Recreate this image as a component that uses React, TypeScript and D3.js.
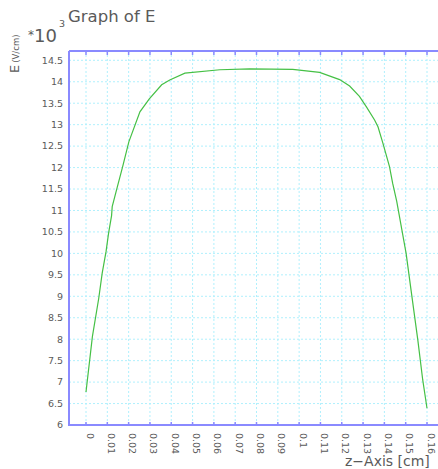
import React from "react";
import * as d3 from "d3";

const zValues = [0, 0.003, 0.006, 0.0076, 0.0094, 0.0106, 0.012, 0.0123, 0.0147, 0.0172, 0.0201, 0.0253, 0.0297, 0.0355, 0.0393, 0.0464, 0.0628, 0.0768, 0.097, 0.1096, 0.119, 0.1237, 0.1283, 0.1315, 0.1354, 0.137, 0.1393, 0.1424, 0.1439, 0.1458, 0.1502, 0.1525, 0.1557, 0.158, 0.16];
const eValues = [6.77, 8.06, 8.96, 9.54, 10.04, 10.47, 10.88, 11.09, 11.55, 12.02, 12.6, 13.3, 13.6, 13.93, 14.04, 14.2, 14.28, 14.3, 14.29, 14.22, 14.05, 13.9, 13.66, 13.42, 13.11, 12.95, 12.57, 12.02, 11.63, 11.21, 10.0, 9.15, 7.98, 7.05, 6.39];
const xTicks = [0, 0.01, 0.02, 0.03, 0.04, 0.05, 0.06, 0.07, 0.08, 0.09, 0.1, 0.11, 0.12, 0.13, 0.14, 0.15, 0.16];
const yTicks = [6, 6.5, 7, 7.5, 8, 8.5, 9, 9.5, 10, 10.5, 11, 11.5, 12, 12.5, 13, 13.5, 14, 14.5];

const W = 438, H = 469;
const left = 69, right = 446, top = 51, bottom = 425;
const FONT = "DejaVu Sans, sans-serif";
const TXT = "#5a5a5a";

export default function App() {
  const x = d3.scaleLinear().domain([0, 0.16]).range([86, 427]);
  const y = d3.scaleLinear().domain([6, 14.5]).range([bottom, 60.3]);
  const pts: [number, number][] = zValues.map((z, i) => [z, eValues[i]]);
  const line = d3.line<[number, number]>().x(d => x(d[0])).y(d => y(d[1]));
  return (
    <svg width={W} height={H} style={{ position: "absolute", left: 0, top: 0, background: "#fff" }}>
      {/* grid */}
      {xTicks.map(t => (
        <line key={"gx" + t} x1={x(t)} x2={x(t)} y1={top} y2={bottom} stroke="#b0f0fd" strokeWidth={1} strokeDasharray="2,2" />
      ))}
      {yTicks.map(t => (
        <line key={"gy" + t} x1={left} x2={right} y1={y(t)} y2={y(t)} stroke="#b0f0fd" strokeWidth={1} strokeDasharray="2,2" />
      ))}
      {/* curve */}
      <path d={line(pts) || ""} fill="none" stroke="#45c045" strokeWidth={1.2} />
      {/* frame */}
      <line x1={left} x2={right} y1={top} y2={top} stroke="#8a8aff" strokeWidth={2} />
      <line x1={left} x2={right} y1={bottom} y2={bottom} stroke="#8a8aff" strokeWidth={2} />
      <line x1={left} x2={left} y1={top} y2={bottom + 1} stroke="#8a8aff" strokeWidth={2} />
      {xTicks.map(t => (
        <g key={"tk" + t}>
          <line x1={x(t)} x2={x(t)} y1={top} y2={top + 4} stroke="#8a8aff" strokeWidth={1.5} />
          <line x1={x(t)} x2={x(t)} y1={bottom} y2={bottom - 3} stroke="#8a8aff" strokeWidth={1.5} />
        </g>
      ))}
      {/* y tick labels */}
      {yTicks.map(t => (
        <text key={"yl" + t} x={63} y={y(t)} dy="0.35em" textAnchor="end" fontFamily={FONT} fontSize={9.5} fill={TXT}>
          {String(t)}
        </text>
      ))}
      {/* x tick labels */}
      {xTicks.map(t => (
        <text key={"xl" + t} transform={`translate(${x(t) + 0.5},433) rotate(90)`} textAnchor="start" fontFamily={FONT} fontSize={9.5} fill={TXT}>
          {String(t)}
        </text>
      ))}
      {/* titles */}
      <text x={68} y={22} fontFamily={FONT} fontSize={16.5} fill={TXT}>Graph of E</text>
      <text x={28} y={42} fontFamily={FONT} fill={TXT}>
        <tspan fontSize={12} dy={-3}>*</tspan>
        <tspan fontSize={18} dy={3}>10</tspan>
      </text>
      <text x={59} y={27} fontFamily={FONT} fontSize={9.5} fill={TXT}>3</text>
      <text transform="translate(19,73) rotate(-90)" fontFamily={FONT} fill={TXT}>
        <tspan fontSize={13}>E</tspan>
        <tspan fontSize={8.5} dx={2}>(V/cm)</tspan>
      </text>
      <text x={345} y={466} fontFamily={FONT} fontSize={14} fill={TXT}>z−Axis [cm]</text>
    </svg>
  );
}
